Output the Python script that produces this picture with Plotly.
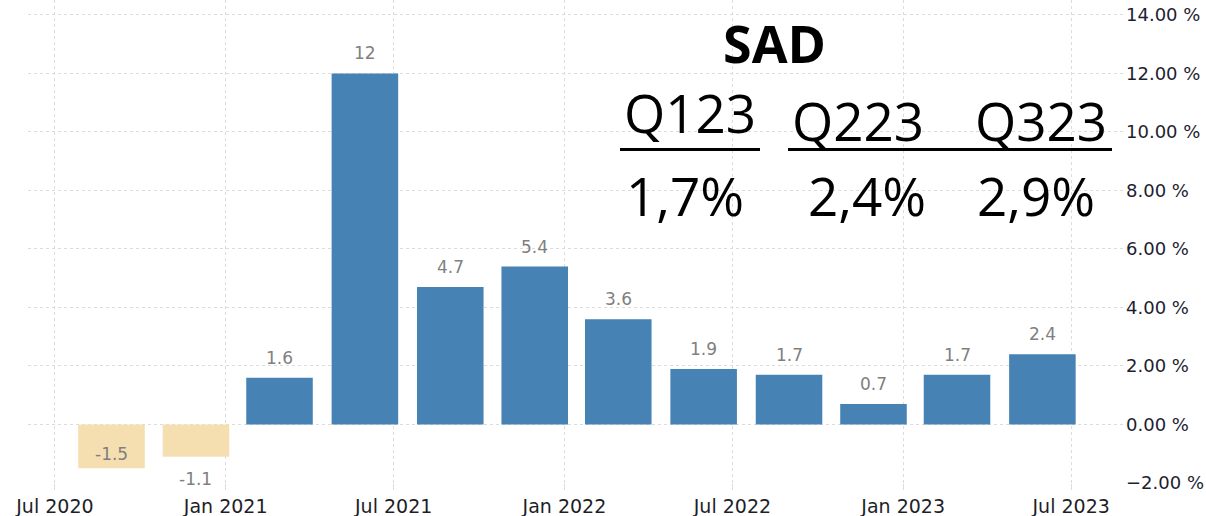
import pandas as pd
import plotly.graph_objects as go

# ---- data ----
quarters = ["2020Q3", "2020Q4", "2021Q1", "2021Q2", "2021Q3", "2021Q4",
            "2022Q1", "2022Q2", "2022Q3", "2022Q4", "2023Q1", "2023Q2"]
growth = [-1.5, -1.1, 1.6, 12, 4.7, 5.4, 3.6, 1.9, 1.7, 0.7, 1.7, 2.4]
headline = "SAD"
quarter_labels = ["Q123", "Q223", "Q323"]
quarter_values = ["1,7%", "2,4%", "2,9%"]

# bar positions: last day of the quarter's second month
starts = pd.PeriodIndex(quarters, freq="Q").start_time
centers = [s + pd.DateOffset(months=2) - pd.Timedelta(days=1) for s in starts]
centers_str = [c.strftime("%Y-%m-%d") for c in centers]

POS = "#4682B4"
NEG = "#F5DFB1"
colors = [POS if v >= 0 else NEG for v in growth]
DAY_MS = 86400000

W, H = 1206, 516
L, R, T, B = 28, 81, 0, 33
PW, PH = W - L - R, H - T - B


def px(x):
    return (x - L) / PW


def py(y):
    return (H - B - y) / PH


fig = go.Figure()
fig.add_trace(go.Bar(
    x=centers_str, y=growth,
    width=[71.7 * DAY_MS] * len(growth),
    marker=dict(color=colors, line=dict(width=0)),
    hoverinfo="x+y",
))

grid = "#dcdcdc"
fig.update_layout(
    width=W, height=H,
    margin=dict(l=L, r=R, t=T, b=B, pad=0),
    paper_bgcolor="white", plot_bgcolor="white",
    showlegend=False,
    font=dict(family="DejaVu Sans", size=17, color="#333333"),
    xaxis=dict(
        type="date",
        range=["2020-06-02", "2023-08-28"],
        tick0="2020-07-01", dtick="M6", tickformat="%b %Y",
        showgrid=True, gridcolor=grid, griddash="dot", gridwidth=1,
        ticks="outside", ticklen=6, tickcolor=grid, tickwidth=1,
        showline=False, zeroline=False,
        tickfont=dict(family="DejaVu Sans", size=19, color="#1e1e28"),
    ),
    yaxis=dict(
        side="right",
        range=[-2, 14.51],
        tick0=0, dtick=2, tickformat=".2f", ticksuffix=" %",
        showgrid=True, gridcolor=grid, griddash="dot", gridwidth=1,
        zeroline=False, showline=False, ticks="",
        tickfont=dict(family="DejaVu Sans", size=18, color="#1e1e30"),
    ),
)

# value labels
LBL = dict(family="DejaVu Sans", size=17, color="#808080")
annotations = []
for c, v in zip(centers_str, growth):
    if v >= 0:
        annotations.append(dict(x=c, y=v, xref="x", yref="y", text=f"{v:g}",
                                showarrow=False, yanchor="bottom", yshift=8, font=LBL))
    elif v <= -1.5:
        annotations.append(dict(x=c, y=v, xref="x", yref="y", text=f"{v:g}",
                                showarrow=False, yanchor="bottom", yshift=2, font=LBL))
    else:
        annotations.append(dict(x=c, y=v, xref="x", yref="y", text=f"{v:g}",
                                showarrow=False, yanchor="top", yshift=-10, font=LBL))

OVER = "Open Sans"
annotations.append(dict(x=px(774.5), y=py(43), xref="paper", yref="paper", text=f"<b>{headline}</b>",
                        showarrow=False, xanchor="center", yanchor="middle",
                        font=dict(family=OVER, size=52, color="black")))
q_x = [690, 858, 1041]
q_y = [113, 120, 120]
v_x = [685, 867, 1036]
for lab, xx, yy in zip(quarter_labels, q_x, q_y):
    annotations.append(dict(x=px(xx), y=py(yy), xref="paper", yref="paper", text=lab,
                            showarrow=False, xanchor="center", yanchor="middle",
                            font=dict(family=OVER, size=53, color="black")))
for lab, xx in zip(quarter_values, v_x):
    annotations.append(dict(x=px(xx), y=py(195), xref="paper", yref="paper", text=lab,
                            showarrow=False, xanchor="center", yanchor="middle",
                            font=dict(family=OVER, size=53, color="black")))
fig.update_layout(annotations=annotations)

shapes = [
    dict(type="line", xref="paper", yref="paper", x0=px(620), x1=px(760), y0=py(149.5), y1=py(149.5),
         line=dict(color="black", width=3)),
    dict(type="line", xref="paper", yref="paper", x0=px(788), x1=px(1112), y0=py(149.5), y1=py(149.5),
         line=dict(color="black", width=3)),
]
fig.update_layout(shapes=shapes)

fig.write_html("out.html", config={"displayModeBar": False},
               post_script="document.body.style.margin='0px';")
